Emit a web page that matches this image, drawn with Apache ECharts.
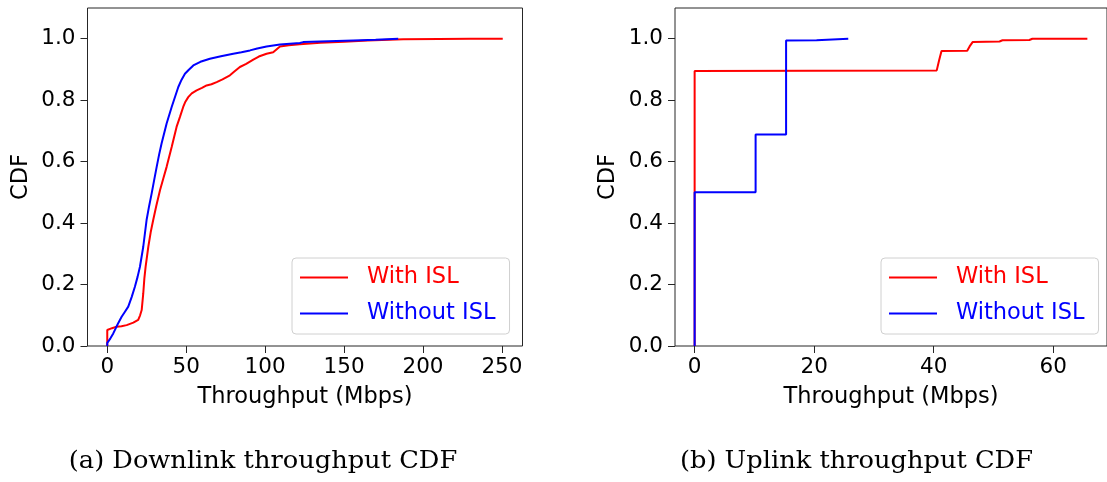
<!DOCTYPE html>
<html>
<head>
<meta charset="utf-8">
<script src="https://cdn.jsdelivr.net/npm/echarts@6/dist/echarts.min.js"></script>
<style>
  html, body { margin: 0; padding: 0; background: #fff; }
  #chart { width: 1107px; height: 482px; }
</style>
</head>
<body>
<div id="chart"></div>
<script>
// ---- Data (throughput in Mbps, CDF value) ----
const seriesNames = ['With ISL', 'Without ISL'];
const seriesColors = ['#ff0000', '#0000ff'];
const yTicks = [0, 0.2, 0.4, 0.6, 0.8, 1.0];
const downTicks = [0, 50, 100, 150, 200, 250];
const upTicks = [0, 20, 40, 60];
const captions = ['(a) Downlink throughput CDF', '(b) Uplink throughput CDF'];

const downWithIsl = [
  [0,0],[0,0.052],[3,0.058],[5.9,0.063],[9,0.064],[12.3,0.068],[16.5,0.076],[19.6,0.085],
  [20.8,0.1],[21.8,0.117],[22.8,0.171],[23.5,0.22],[24.3,0.258],[26,0.323],[27.5,0.37],
  [29.1,0.41],[31,0.455],[33.4,0.507],[35.5,0.545],[37.6,0.583],[40.8,0.648],[43.9,0.713],
  [46,0.745],[48.1,0.778],[49.5,0.795],[51.3,0.81],[53.5,0.822],[56.6,0.832],[60,0.84],
  [62.9,0.848],[66,0.852],[69.3,0.859],[73,0.868],[77.7,0.881],[80.5,0.893],[84,0.908],
  [88,0.918],[92.5,0.932],[96,0.942],[100.9,0.951],[105.1,0.956],[109.4,0.975],[115,0.979],
  [122,0.982],[135,0.987],[150,0.99],[165,0.994],[187.5,0.998],[210,0.999],[230,1.0],[250.5,1.0]
];
const downWithoutIsl = [
  [0,0],[0,0.01],[2,0.025],[3.8,0.041],[6.5,0.07],[9.1,0.095],[11,0.11],[13.3,0.128],
  [15.5,0.16],[17.5,0.193],[19.2,0.225],[20.7,0.258],[22.8,0.323],[24.9,0.41],[26.5,0.455],
  [28.1,0.496],[29.7,0.54],[31.3,0.583],[32.8,0.622],[34.4,0.659],[37.6,0.724],[40.8,0.778],
  [43,0.812],[45,0.843],[47,0.866],[49.2,0.886],[51.5,0.898],[54.5,0.913],[59,0.925],
  [65,0.935],[72,0.943],[79.8,0.951],[85,0.956],[90.4,0.962],[95,0.968],[100.9,0.975],
  [109.4,0.981],[122,0.986],[124.1,0.989],[140,0.992],[155.8,0.9945],[170,0.997],[184.3,1.0]
];
const upWithIsl = [
  [0,0],[0,0.895],[20,0.896],[40.5,0.897],[40.9,0.93],[41.3,0.96],[45.6,0.961],[46.0,0.975],
  [46.5,0.989],[51,0.991],[51.5,0.995],[56,0.996],[56.5,1.0],[65.7,1.0]
];
const upWithoutIsl = [
  [0,0],[0,0.5],[10.2,0.5],[10.2,0.688],[15.3,0.688],[15.3,0.994],[20.4,0.995],[20.5,0.998],[25.7,1.0]
];

// ---- Chart ----
const FONT = 'DejaVu Sans';
const TICK_FS = 21.5;
const NAME_FS = 22.5;
const AXIS_COLOR = '#262626';

function xAxisCfg(gridIndex, min, max, ticks) {
  return {
    type: 'value', gridIndex, min, max,
    name: 'Throughput (Mbps)', nameLocation: 'middle', nameGap: 40,
    nameTextStyle: { fontFamily: FONT, fontSize: NAME_FS, color: '#000' },
    axisLine: { show: false, onZero: false },
    axisTick: { show: true, inside: false, length: 7, customValues: ticks,
                lineStyle: { color: AXIS_COLOR, width: 1 } },
    axisLabel: { show: true, customValues: ticks, margin: 10,
                 fontFamily: FONT, fontSize: TICK_FS, color: '#000' },
    splitLine: { show: false }
  };
}
function yAxisCfg(gridIndex) {
  return {
    type: 'value', gridIndex, min: 0, max: 1.1,
    name: 'CDF', nameLocation: 'middle', nameGap: 55,
    nameTextStyle: { fontFamily: FONT, fontSize: NAME_FS, color: '#000' },
    axisLine: { show: false, onZero: false },
    axisTick: { show: true, inside: false, length: 7, customValues: yTicks,
                lineStyle: { color: AXIS_COLOR, width: 1 } },
    axisLabel: { show: true, customValues: yTicks, margin: 12,
                 fontFamily: FONT, fontSize: TICK_FS, color: '#000',
                 formatter: v => v.toFixed(1) },
    splitLine: { show: false }
  };
}
function lineSeries(name, color, data, idx) {
  return {
    name, type: 'line', xAxisIndex: idx, yAxisIndex: idx, data,
    symbol: 'none', showSymbol: false, animation: false,
    lineStyle: { color, width: 2 }, itemStyle: { color },
    z: name === 'Without ISL' ? 3 : 2
  };
}
function legendCfg(left) {
  return {
    left, top: 258, orient: 'vertical',
    data: seriesNames.map((n, i) => ({ name: n, textStyle: { color: seriesColors[i] } })),
    icon: 'path://M0,0h48v2h-48z',
    itemWidth: 48, itemHeight: 22, itemGap: 13,
    padding: [8, 14, 9, 8],
    backgroundColor: '#fff', borderColor: '#d0d0d0', borderWidth: 1, borderRadius: 4,
    textStyle: { fontFamily: FONT, fontSize: NAME_FS, padding: [0, 0, 0, 14] },
    selectedMode: false
  };
}

const chart = echarts.init(document.getElementById('chart'), null, { renderer: 'canvas' });
const capFont = '24px "DejaVu Serif"';
chart.setOption({
  animation: false,
  backgroundColor: '#fff',
  grid: [
    { left: 87.5, top: 8, width: 435, height: 338, show: true, borderColor: AXIS_COLOR, borderWidth: 1, containLabel: false },
    { left: 675, top: 8, width: 436, height: 338, show: true, borderColor: AXIS_COLOR, borderWidth: 1, containLabel: false }
  ],
  xAxis: [
    xAxisCfg(0, -12.52, 263.02, downTicks),
    xAxisCfg(1, -3.285, 68.985, upTicks)
  ],
  yAxis: [yAxisCfg(0), yAxisCfg(1)],
  legend: [legendCfg(292), legendCfg(881)],
  series: [
    lineSeries(seriesNames[0], seriesColors[0], downWithIsl, 0),
    lineSeries(seriesNames[1], seriesColors[1], downWithoutIsl, 0),
    lineSeries(seriesNames[0], seriesColors[0], upWithIsl, 1),
    lineSeries(seriesNames[1], seriesColors[1], upWithoutIsl, 1)
  ],
  graphic: [
    { type: 'text', x: 263, y: 462, scaleX: 1.07, style: { text: captions[0], font: capFont, fill: '#000', align: 'center', verticalAlign: 'middle' } },
    { type: 'text', x: 856.5, y: 462, scaleX: 1.07, style: { text: captions[1], font: capFont, fill: '#000', align: 'center', verticalAlign: 'middle' } }
  ]
});
</script>
</body>
</html>
